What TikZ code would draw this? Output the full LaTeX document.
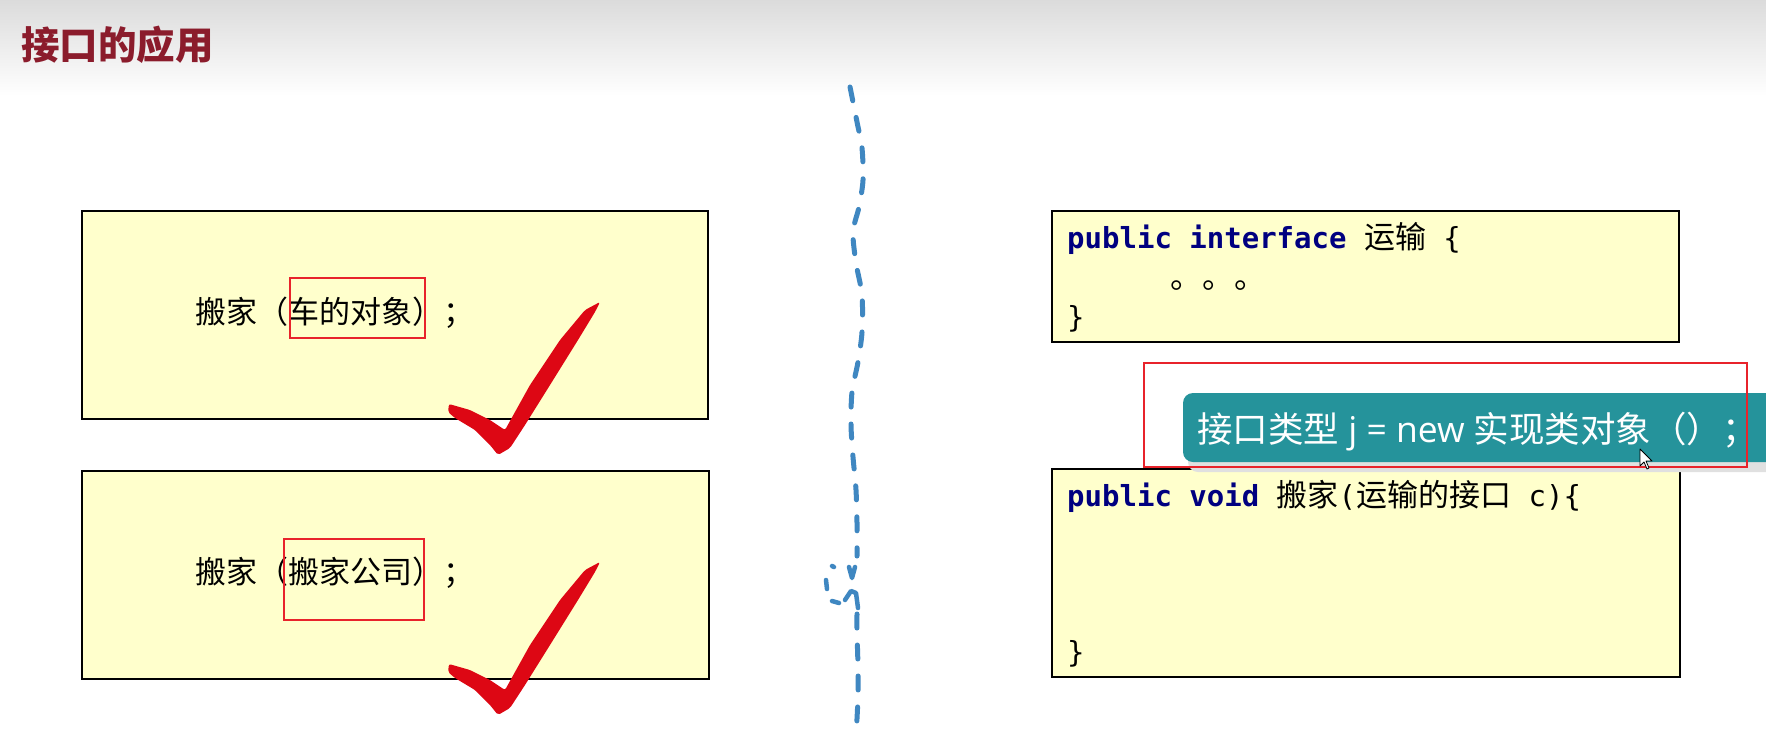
\documentclass[tikz,border=0pt]{standalone}
\usepackage{fontspec}
\setmainfont{Noto Sans CJK SC}
\newfontfamily\cjk{Noto Sans CJK SC}
\newfontfamily\mono{DejaVu Sans Mono}
\newfontfamily\osans{Open Sans}
\definecolor{boxfill}{HTML}{FFFFCC}
\definecolor{titlered}{HTML}{8B1C2C}
\definecolor{markred}{HTML}{E8232B}
\definecolor{tickred}{HTML}{DD0714}
\definecolor{kwblue}{HTML}{000080}
\definecolor{tealbox}{HTML}{25939B}
\definecolor{dashblue}{HTML}{3F87C1}
\newcommand\kw[1]{{\mono\fontsize{29}{35}\selectfont\bfseries\color{kwblue}#1}}
\newcommand\mn[1]{{\mono\fontsize{29}{35}\selectfont #1}}
\tikzset{
  ybox/.style={draw=black, line width=2.5pt, fill=boxfill, rectangle, inner sep=0pt},
  markbox/.style={draw=markred, line width=2pt, rectangle, inner sep=0pt},
  bigtext/.style={inner sep=0pt, font=\cjk\fontsize{31}{36}\selectfont},
  codetext/.style={inner sep=0pt, font=\cjk\fontsize{31}{36}\selectfont},
  dashline/.style={draw=dashblue, line width=5pt, line cap=round, dash pattern=on 14pt off 17pt},
  squig/.style={draw=dashblue, line width=4.5pt, line cap=round, line join=round},
  tick/.pic={
    \fill[tickred, rounded corners=2pt] (-49,-51) -- (-28,-45) -- (-8,-35) -- (7,-25) -- (32,-70) -- (62,-115) -- (87,-145) -- (102,-153) -- (97,-143) -- (80,-115) -- (52,-70) -- (27,-30) -- (12,-7) -- (0,0) -- (-8,-10) -- (-23,-25) -- (-43,-37) -- (-50,-43) -- cycle;
  }
}
\begin{document}
\begin{tikzpicture}[x=1pt,y=-1pt]
\clip (0,0) rectangle (1766,742);
\fill[white] (0,0) rectangle (1766,742);
\shade[top color=black!14, bottom color=white] (0,0) rectangle (1766,96);
% title
\node[anchor=west, inner sep=0pt, text=titlered, font=\cjk\fontsize{38.5}{44}\selectfont\bfseries] (title) at (21,45) {接口的应用};
% left boxes
\node[ybox, minimum width=626pt, minimum height=208pt] (b1) at (395,315) {};
\node[ybox, minimum width=627pt, minimum height=208pt] (b2) at (395.5,575) {};
\node[bigtext, anchor=west] (t1) at (195,313) {搬家（车的对象）；};
\node[bigtext, anchor=west] (t2) at (195,573) {搬家（搬家公司）；};
\node[markbox, minimum width=135pt, minimum height=60pt] (m1) at (357.5,308) {};
\node[markbox, minimum width=140pt, minimum height=81pt] (m2) at (354,579.5) {};
\pic at (498,455) {tick};
\pic at (498,715) {tick};
% dashed divider
\draw[dashline] plot[smooth] coordinates {(850,87) (857,122) (862,148) (863,180) (859,207) (853,232) (856,263) (862,295) (862,332) (858,362) (852,392) (851,425) (853,457) (856,490) (857,523) (857,556)};
\draw[dashline] plot[smooth] coordinates {(857,614) (857,632) (858,667) (858,697) (856,737)};
\draw[squig] (849,567) -- (852,578) -- (855,567);
\draw[squig] (832,566) -- (834,567);
\draw[squig] (826,580) -- (827,589);
\draw[squig] (832,601) -- (839,603);
\draw[squig] (845,600) -- (851,591) -- (856,593) -- (858,608);
% right boxes
\node[ybox, minimum width=627pt, minimum height=131pt] (r1) at (1365.5,276.5) {};
\node[codetext, anchor=base west] (c1) at (1067,248) {\kw{public interface }运输\mn{ \{}};
\node[codetext, anchor=base west, font=\cjk\fontsize{32}{36}\selectfont] (c2) at (1170,288) {。。。};
\node[codetext, anchor=base west] (c3) at (1067,327) {\mn{\}}};
\node[ybox, minimum width=628pt, minimum height=208pt] (r2) at (1366,573) {};
\node[codetext, anchor=base west] (c4) at (1067,506) {\kw{public void }搬家\mn{(}运输的接口\mn{ c)\{}};
\node[codetext, anchor=base west] (c5) at (1067,662) {\mn{\}}};
% tooltip
\fill[black!12, rounded corners=10pt] (1188,400) rectangle (1790,472);
\node[fill=tealbox, rounded corners=10pt, minimum width=600pt, minimum height=69pt, inner sep=0pt] (tip) at (1483,427.5) {};
\node[anchor=base west, inner sep=0pt, text=white, font=\cjk\fontsize{35.5}{40}\selectfont] (tiptext) at (1197,442) {接口类型{\osans\fontsize{35.5}{40}\selectfont\ j = new\ }实现类对象（）；};
\node[markbox, minimum width=603pt, minimum height=104pt] (m3) at (1445.5,415) {};
% cursor
\filldraw[fill=white, draw=black, line width=0.8pt, line join=round] (1640,449) -- (1640,466) -- (1644,462) -- (1647,469) -- (1649,468) -- (1646,461) -- (1652,461) -- cycle;
\end{tikzpicture}
\end{document}
